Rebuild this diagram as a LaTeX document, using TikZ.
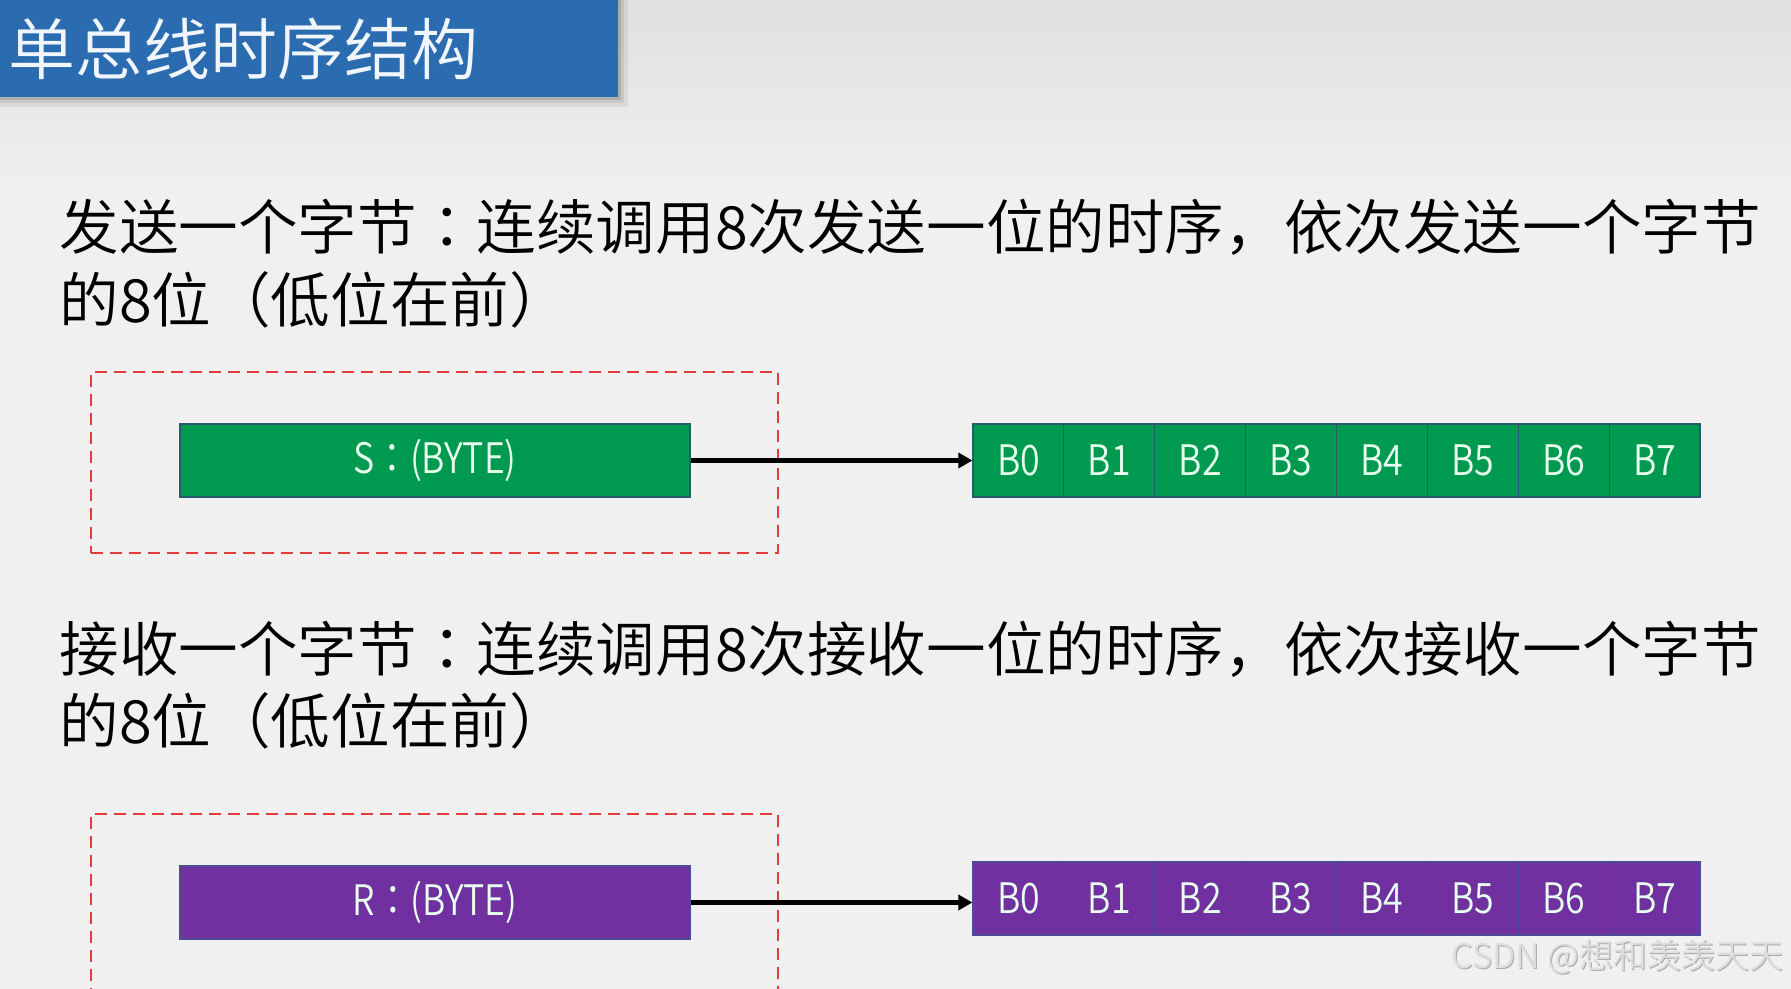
\documentclass[tikz,border=0pt]{standalone}
\usepackage{fontspec}
\setmainfont{Noto Sans CJK SC}
\newfontfamily\cjk[UprightFont=* DemiLight]{Noto Sans CJK SC}
\newfontfamily\tccolon[UprightFont=* DemiLight]{Noto Sans CJK TC}
\newfontfamily\boxfont[FakeStretch=0.85,UprightFont=* DemiLight]{Noto Sans CJK SC}
\newfontfamily\boxcolon[FakeStretch=0.85,UprightFont=* DemiLight]{Noto Sans CJK TC}
\usetikzlibrary{arrows.meta}
\definecolor{bg}{RGB}{240,240,240}
\definecolor{bgtop}{RGB}{224,224,224}
\definecolor{titleblue}{RGB}{43,108,176}
\definecolor{titletext}{RGB}{240,246,252}
\definecolor{bgreen}{RGB}{0,153,80}
\definecolor{gedge}{RGB}{40,90,110}
\definecolor{bpurple}{RGB}{112,48,160}
\definecolor{pedge}{RGB}{75,75,150}
\definecolor{dashred}{RGB}{225,60,60}
\definecolor{boxtext}{RGB}{232,255,240}
\definecolor{wmlight}{RGB}{222,222,222}
\definecolor{wmdark}{RGB}{170,170,170}
\tikzset{
  titlebox/.style={fill=titleblue, text=titletext, minimum width=309pt, minimum height=48.5pt,
    inner xsep=4.5pt, text width=300pt, align=left, font=\cjk\fontsize{33.5}{40}\selectfont},
  bodytext/.style={anchor=west, inner sep=0pt, text=black, font=\cjk\fontsize{29.8}{36}\selectfont},
  dashbox/.style={draw=dashred, line width=1pt, dash pattern=on 6pt off 3.5pt, minimum width=343.5pt},
  bigbox/.style={minimum width=255pt, minimum height=36.5pt, inner sep=0pt, text=boxtext,
    font=\boxfont\fontsize{21}{25}\selectfont},
  bitbox/.style={minimum width=45.44pt, minimum height=36.5pt, inner sep=0pt, text=boxtext,
    font=\boxfont\fontsize{21}{25}\selectfont},
  gfill/.style={fill=bgreen, draw=gedge, line width=0.6pt},
  pfill/.style={fill=bpurple, draw=pedge, line width=0.6pt},
  arr/.style={draw=black, line width=2.4pt, -{Triangle[length=7pt,width=7.5pt]}},
  wm/.style={anchor=east, inner sep=0pt, font=\cjk\fontsize{17}{20}\selectfont}
}
\begin{document}
\begin{tikzpicture}[x=0.5pt,y=-0.5pt]
\useasboundingbox (0,0) rectangle (1791,989);
\clip (0,0) rectangle (1791,989);
% background
\fill[bg] (0,0) rectangle (1791,989);
\shade[top color=bgtop, bottom color=bg] (0,0) rectangle (1791,200);
% title shadow
\fill[black, opacity=0.06] (0,0) rectangle (628,107);
\fill[black, opacity=0.08] (0,0) rectangle (624,103);
\fill[black, opacity=0.12] (0,0) rectangle (621,100);
% title
\node[titlebox] (title) at (309,48.5) {\raisebox{-2pt}{单总线时序结构}};
% text lines
\node[bodytext] (t1) at (59,227) {发送一个字节{\tccolon ：}连续调用8次发送一位的时序，依次发送一个字节};
\node[bodytext] (t2) at (59,300) {的8位（低位在前）};
\node[bodytext] (t3) at (59,649) {接收一个字节{\tccolon ：}连续调用8次接收一位的时序，依次接收一个字节};
\node[bodytext] (t4) at (59,721) {的8位（低位在前）};
% dashed frames
\node[dashbox, minimum height=90.5pt] (d1) at (434.5,462.5) {};
\node[dashbox, minimum height=100pt] (d2) at (434.5,914) {};
% send
\node[bigbox, gfill] (S) at (435,460.5) {S{\boxcolon ：}(BYTE)};
\foreach \i in {0,...,7}
  \node[bitbox, gfill] (g\i) at ({973+90.875*(\i+0.5)},460.5) {B\i};
\draw[arr] (S.east) -- (g0.west);
% receive
\node[bigbox, pfill] (R) at (435,902.5) {R{\boxcolon ：}(BYTE)};
\foreach \i in {0,...,7}
  \node[bitbox, pfill] (p\i) at ({973+90.875*(\i+0.5)},898.5) {B\i};
\draw[arr] (R.east) -- (R.east -| p0.west);
% watermark
\node[wm, text=wmdark] (wms) at (1785,958) {CSDN @想和羡羡天天};
\node[wm, text=wmlight] (wm) at (1784,957) {CSDN @想和羡羡天天};
\end{tikzpicture}
\end{document}
